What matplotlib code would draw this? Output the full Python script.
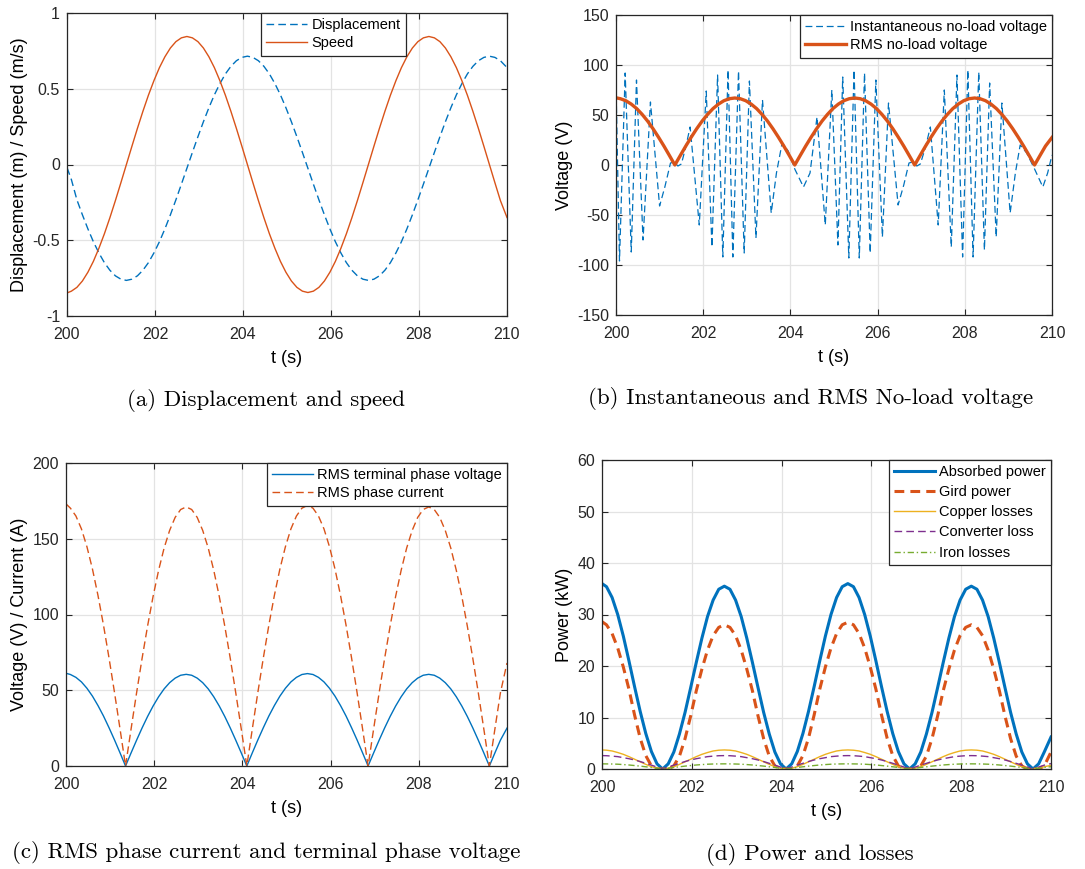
import numpy as np
import matplotlib
matplotlib.use("Agg")
import matplotlib.pyplot as plt

plt.rcParams['font.family'] = ['Liberation Sans', 'DejaVu Sans']
plt.rcParams['axes.unicode_minus'] = False

# time grid shared by the slow curves (s)
t = [200.0, 200.1, 200.225, 200.35, 200.475, 200.6, 200.725, 200.85, 200.975, 201.1, 201.225,
     201.35, 201.475, 201.6, 201.725, 201.85, 201.975, 202.1, 202.225, 202.35, 202.475, 202.6,
     202.725, 202.85, 202.975, 203.1, 203.225, 203.35, 203.475, 203.6, 203.725, 203.85, 203.975,
     204.1, 204.225, 204.35, 204.475, 204.6, 204.725, 204.85, 204.975, 205.1, 205.225, 205.35,
     205.475, 205.6, 205.725, 205.85, 205.975, 206.1, 206.225, 206.35, 206.475, 206.6, 206.725,
     206.85, 206.975, 207.1, 207.225, 207.35, 207.475, 207.6, 207.725, 207.85, 207.975, 208.1,
     208.225, 208.35, 208.475, 208.6, 208.725, 208.85, 208.975, 209.1, 209.225, 209.35, 209.475,
     209.6, 209.725, 209.85, 210.0]

# (a) displacement (m) and speed (m/s)
displacement = [-0.02, -0.10, -0.233, -0.332, -0.425, -0.51, -0.584, -0.648, -0.698, -0.735, -0.757,
                -0.765, -0.757, -0.735, -0.698, -0.648, -0.584, -0.51, -0.425, -0.332, -0.233, -0.13,
                -0.025, 0.08, 0.183, 0.282, 0.375, 0.46, 0.534, 0.598, 0.648, 0.685, 0.707,
                0.715, 0.707, 0.685, 0.648, 0.598, 0.534, 0.46, 0.375, 0.282, 0.183, 0.08,
                -0.025, -0.13, -0.233, -0.332, -0.425, -0.51, -0.584, -0.648, -0.698, -0.735, -0.757,
                -0.765, -0.757, -0.735, -0.698, -0.648, -0.584, -0.51, -0.425, -0.332, -0.233, -0.13,
                -0.025, 0.08, 0.183, 0.282, 0.375, 0.46, 0.534, 0.598, 0.648, 0.685, 0.707,
                0.715, 0.707, 0.685, 0.64]
speed = [-0.848, -0.836, -0.811, -0.769, -0.711, -0.639, -0.553, -0.457, -0.351, -0.238, -0.12,
         0.0, 0.12, 0.238, 0.351, 0.457, 0.553, 0.639, 0.711, 0.769, 0.811, 0.836,
         0.845, 0.836, 0.811, 0.769, 0.711, 0.639, 0.553, 0.457, 0.351, 0.238, 0.12,
         0.0, -0.12, -0.238, -0.351, -0.457, -0.553, -0.639, -0.711, -0.769, -0.811, -0.836,
         -0.845, -0.836, -0.811, -0.769, -0.711, -0.639, -0.553, -0.457, -0.351, -0.238, -0.12,
         0.0, 0.12, 0.238, 0.351, 0.457, 0.553, 0.639, 0.711, 0.769, 0.811, 0.836,
         0.845, 0.836, 0.811, 0.769, 0.711, 0.639, 0.553, 0.457, 0.351, 0.238, 0.12,
         0.0, -0.12, -0.238, -0.35]

# (b) instantaneous no-load voltage (peaks / troughs) and RMS no-load voltage (V)
inst_t = [200.0, 200.08, 200.21, 200.35, 200.47, 200.62, 200.79, 201.0, 201.12, 201.25,
          201.33, 201.42, 201.5, 201.6, 201.7, 201.91, 202.07, 202.2, 202.33, 202.45,
          202.57, 202.68, 202.81, 202.94, 203.06, 203.21, 203.36, 203.56, 203.68, 203.81,
          203.95, 204.1, 204.3, 204.45, 204.53, 204.61, 204.8, 204.95, 205.09, 205.2,
          205.34, 205.46, 205.58, 205.7, 205.83, 205.96, 206.11, 206.25, 206.47, 206.6,
          206.72, 206.8, 206.9, 206.98, 207.1, 207.21, 207.39, 207.53, 207.69, 207.82,
          207.95, 208.07, 208.19, 208.32, 208.45, 208.57, 208.72, 208.85, 209.04, 209.16,
          209.27, 209.42, 209.6, 209.79, 209.9, 210.0]
inst_v = [80, -96, 92, -87, 85, -75, 63, -41, -22, 2,
          3, -1, 1, 18, 38, -60, 74, -82, 90, -92,
          95, -92, 94, -88, 84, -73, 65, -48, -8, 22,
          14, -4, -22, -8, 20, 48, -60, 75, -80, 88,
          -93, 95, -93, 92, -88, 85, -72, 62, -40, -20,
          2, 3, -1, 1, 18, 38, -60, 75, -82, 90,
          -92, 95, -92, 93, -85, 82, -72, 62, -48, -8,
          20, 12, -4, -22, -8, 10]
rms_noload = [67.2, 66.3, 64.3, 60.9, 56.4, 50.6, 43.9, 36.2, 27.8, 18.9, 9.5,
              0.0, 9.5, 18.9, 27.8, 36.2, 43.9, 50.6, 56.4, 60.9, 64.3, 66.3,
              67.0, 66.3, 64.3, 60.9, 56.4, 50.6, 43.9, 36.2, 27.8, 18.9, 9.5,
              0.0, 9.5, 18.9, 27.8, 36.2, 43.9, 50.6, 56.4, 60.9, 64.3, 66.3,
              67.0, 66.3, 64.3, 60.9, 56.4, 50.6, 43.9, 36.2, 27.8, 18.9, 9.5,
              0.0, 9.5, 18.9, 27.8, 36.2, 43.9, 50.6, 56.4, 60.9, 64.3, 66.3,
              67.0, 66.3, 64.3, 60.9, 56.4, 50.6, 43.9, 36.2, 27.8, 18.9, 9.5,
              0.0, 9.5, 18.9, 27.5]

# (c) RMS terminal phase voltage (V) and RMS phase current (A)
rms_term_v = [61.2, 60.4, 58.5, 55.5, 51.3, 46.1, 39.9, 33.0, 25.3, 17.2, 8.7,
              0.0, 8.6, 17.0, 25.1, 32.7, 39.6, 45.7, 50.9, 55.0, 58.0, 59.9,
              60.5, 59.9, 58.0, 55.0, 50.9, 45.7, 39.6, 32.7, 25.1, 17.0, 8.6,
              0.0, 8.7, 17.2, 25.3, 33.0, 39.9, 46.1, 51.3, 55.5, 58.5, 60.4,
              61.0, 60.4, 58.5, 55.5, 51.3, 46.1, 39.9, 33.0, 25.3, 17.2, 8.7,
              0.0, 8.6, 17.0, 25.1, 32.7, 39.6, 45.7, 50.9, 55.0, 58.0, 59.9,
              60.5, 59.9, 58.0, 55.0, 50.9, 45.7, 39.6, 32.7, 25.1, 17.0, 8.6,
              0.0, 8.6, 17.0, 25.0]
rms_current = [173.0, 170.2, 165.0, 156.5, 144.7, 130.0, 112.6, 93.0, 71.4, 48.5, 24.5,
               0.0, 24.3, 48.2, 71.0, 92.4, 112.0, 129.2, 143.9, 155.5, 164.1, 169.3,
               171.0, 169.3, 164.1, 155.5, 143.9, 129.2, 112.0, 92.4, 71.0, 48.2, 24.3,
               0.0, 24.5, 48.5, 71.4, 93.0, 112.6, 130.0, 144.7, 156.5, 165.0, 170.2,
               172.0, 170.2, 165.0, 156.5, 144.7, 130.0, 112.6, 93.0, 71.4, 48.5, 24.5,
               0.0, 24.3, 48.2, 71.0, 92.4, 112.0, 129.2, 143.9, 155.5, 164.1, 169.3,
               171.0, 169.3, 164.1, 155.5, 143.9, 129.2, 112.0, 92.4, 71.0, 48.2, 24.3,
               0.0, 24.3, 48.2, 68.0]

# (d) power and losses (kW)
absorbed = [36.0, 35.4, 33.3, 30.0, 25.8, 21.0, 16.0, 11.2, 6.9, 3.4, 1.0,
            0.0, 1.0, 3.3, 6.8, 11.0, 15.8, 20.7, 25.4, 29.6, 32.8, 34.9,
            35.5, 34.9, 32.8, 29.6, 25.4, 20.7, 15.8, 11.0, 6.8, 3.3, 1.0,
            0.0, 1.0, 3.4, 6.9, 11.2, 16.0, 21.0, 25.8, 30.0, 33.3, 35.4,
            36.0, 35.4, 33.3, 30.0, 25.8, 21.0, 16.0, 11.2, 6.9, 3.4, 1.0,
            0.0, 1.0, 3.3, 6.8, 11.0, 15.8, 20.7, 25.4, 29.6, 32.8, 34.9,
            35.5, 34.9, 32.8, 29.6, 25.4, 20.7, 15.8, 11.0, 6.8, 3.3, 1.0,
            0.0, 1.0, 3.3, 6.2]
grid_power = [28.6, 28.0, 26.3, 23.5, 19.8, 15.5, 10.5, 6.0, 2.6, 0.6, 0.0,
              0.0, 0.0, 0.6, 2.5, 5.9, 10.3, 15.2, 19.4, 23.1, 25.9, 27.5,
              28.0, 27.5, 25.9, 23.1, 19.4, 15.2, 10.3, 5.9, 2.5, 0.6, 0.0,
              0.0, 0.0, 0.6, 2.6, 6.0, 10.5, 15.5, 19.8, 23.5, 26.3, 28.0,
              28.5, 28.0, 26.3, 23.5, 19.8, 15.5, 10.5, 6.0, 2.6, 0.6, 0.0,
              0.0, 0.0, 0.6, 2.5, 5.9, 10.3, 15.2, 19.4, 23.1, 25.9, 27.5,
              28.0, 27.5, 25.9, 23.1, 19.4, 15.2, 10.3, 5.9, 2.5, 0.6, 0.0,
              0.0, 0.0, 0.6, 3.3]
copper = [3.7, 3.65, 3.5, 3.2, 2.85, 2.4, 1.9, 1.4, 0.9, 0.45, 0.15,
          0.0, 0.15, 0.45, 0.9, 1.4, 1.9, 2.4, 2.85, 3.2, 3.5, 3.65,
          3.7, 3.65, 3.5, 3.2, 2.85, 2.4, 1.9, 1.4, 0.9, 0.45, 0.15,
          0.0, 0.15, 0.45, 0.9, 1.4, 1.9, 2.4, 2.85, 3.2, 3.5, 3.65,
          3.7, 3.65, 3.5, 3.2, 2.85, 2.4, 1.9, 1.4, 0.9, 0.45, 0.15,
          0.0, 0.15, 0.45, 0.9, 1.4, 1.9, 2.4, 2.85, 3.2, 3.5, 3.65,
          3.7, 3.65, 3.5, 3.2, 2.85, 2.4, 1.9, 1.4, 0.9, 0.45, 0.15,
          0.0, 0.15, 0.45, 0.7]
converter = [2.6, 2.58, 2.5, 2.4, 2.2, 2.0, 1.75, 1.45, 1.1, 0.75, 0.38,
             0.0, 0.38, 0.75, 1.1, 1.45, 1.75, 2.0, 2.2, 2.4, 2.5, 2.58,
             2.6, 2.58, 2.5, 2.4, 2.2, 2.0, 1.75, 1.45, 1.1, 0.75, 0.38,
             0.0, 0.38, 0.75, 1.1, 1.45, 1.75, 2.0, 2.2, 2.4, 2.5, 2.58,
             2.6, 2.58, 2.5, 2.4, 2.2, 2.0, 1.75, 1.45, 1.1, 0.75, 0.38,
             0.0, 0.38, 0.75, 1.1, 1.45, 1.75, 2.0, 2.2, 2.4, 2.5, 2.58,
             2.6, 2.58, 2.5, 2.4, 2.2, 2.0, 1.75, 1.45, 1.1, 0.75, 0.38,
             0.0, 0.38, 0.75, 1.05]
iron = [1.0, 0.99, 0.97, 0.93, 0.86, 0.78, 0.67, 0.56, 0.43, 0.3, 0.15,
        0.0, 0.15, 0.3, 0.43, 0.56, 0.67, 0.78, 0.86, 0.93, 0.97, 0.99,
        1.0, 0.99, 0.97, 0.93, 0.86, 0.78, 0.67, 0.56, 0.43, 0.3, 0.15,
        0.0, 0.15, 0.3, 0.43, 0.56, 0.67, 0.78, 0.86, 0.93, 0.97, 0.99,
        1.0, 0.99, 0.97, 0.93, 0.86, 0.78, 0.67, 0.56, 0.43, 0.3, 0.15,
        0.0, 0.15, 0.3, 0.43, 0.56, 0.67, 0.78, 0.86, 0.93, 0.97, 0.99,
        1.0, 0.99, 0.97, 0.93, 0.86, 0.78, 0.67, 0.56, 0.43, 0.3, 0.15,
        0.0, 0.15, 0.3, 0.45]

BLUE = '#0072BD'
ORANGE = '#D95319'
YELLOW = '#EDB120'
PURPLE = '#7E2F8E'
GREEN = '#77AC30'

W, H = 1085, 869


def add_axes_px(fig, left, top, right, bottom):
    return fig.add_axes([left / W, 1 - bottom / H, (right - left) / W, (bottom - top) / H])


def style_axes(ax, ylabel):
    ax.set_xlim(200, 210)
    ax.set_xticks([200, 202, 204, 206, 208, 210])
    ax.grid(True, color='#e3e3e3', lw=0.9)
    ax.set_axisbelow(True)
    ax.tick_params(direction='in', top=True, right=True, length=4, width=0.8,
                   labelsize=11.5, colors='#262626')
    ax.tick_params(axis='x', pad=8)
    ax.tick_params(axis='y', pad=5)
    for sp in ax.spines.values():
        sp.set_color('#262626')
        sp.set_linewidth(0.9)
    ax.set_xlabel('t (s)', fontsize=13, labelpad=6)
    ax.set_ylabel(ylabel, fontsize=13, labelpad=3)


def legend(ax, spacing=0.3, **kw):
    leg = ax.legend(fontsize=10.5, frameon=True, fancybox=False, framealpha=1,
                    edgecolor='#262626', handlelength=2.8, handletextpad=0.3,
                    borderpad=0.35, labelspacing=spacing, borderaxespad=0, **kw)
    leg.get_frame().set_linewidth(0.9)
    return leg


def caption(fig, x, y, text):
    fig.text(x / W, 1 - y / H, text, ha='center', va='center',
             fontsize=16.5, family='cmr10')


def main():
    fig = plt.figure(figsize=(W / 100, H / 100), dpi=100)

    # (a)
    ax = add_axes_px(fig, 67, 13, 507, 316)
    ax.plot(t, displacement, color=BLUE, lw=1, dashes=(5.5, 3), label='Displacement')
    ax.plot(t, speed, color=ORANGE, lw=1, label='Speed')
    ax.set_ylim(-1, 1)
    ax.set_yticks([-1, -0.5, 0, 0.5, 1])
    ax.set_yticklabels(['-1', '-0.5', '0', '0.5', '1'])
    style_axes(ax, 'Displacement (m) / Speed (m/s)')
    legend(ax, loc='upper left', bbox_to_anchor=(0.441, 1.0))
    caption(fig, 266, 400, '(a) Displacement and speed')

    # (b)
    ax = add_axes_px(fig, 616, 15, 1052, 315)
    ax.plot(inst_t, inst_v, color=BLUE, lw=0.9, dashes=(5.5, 3),
            label='Instantaneous no-load voltage')
    ax.plot(t, rms_noload, color=ORANGE, lw=2.4, label='RMS no-load voltage')
    ax.set_ylim(-150, 150)
    ax.set_yticks(range(-150, 151, 50))
    style_axes(ax, 'Voltage (V)')
    legend(ax, loc='upper right')
    caption(fig, 811, 398, '(b) Instantaneous and RMS No-load voltage')

    # (c)
    ax = add_axes_px(fig, 66, 463, 507, 766)
    ax.plot(t, rms_term_v, color=BLUE, lw=1, label='RMS terminal phase voltage')
    ax.plot(t, rms_current, color=ORANGE, lw=1, dashes=(5.5, 3), label='RMS phase current')
    ax.set_ylim(0, 200)
    ax.set_yticks(range(0, 201, 50))
    style_axes(ax, 'Voltage (V) / Current (A)')
    legend(ax, loc='upper right')
    caption(fig, 266, 852, '(c) RMS phase current and terminal phase voltage')

    # (d)
    ax = add_axes_px(fig, 602, 460, 1051, 769)
    ax.plot(t, absorbed, color=BLUE, lw=2.2, label='Absorbed power')
    ax.plot(t, grid_power, color=ORANGE, lw=2.2, dashes=(3.2, 2.0), label='Gird power')
    ax.plot(t, copper, color=YELLOW, lw=1, label='Copper losses')
    ax.plot(t, converter, color=PURPLE, lw=1, dashes=(5.5, 3), label='Converter loss')
    ax.plot(t, iron, color=GREEN, lw=1, dashes=(4.5, 2, 1, 2), label='Iron losses')
    ax.set_ylim(0, 60)
    ax.set_yticks(range(0, 61, 10))
    style_axes(ax, 'Power (kW)')
    legend(ax, spacing=0.42, loc='upper right')
    caption(fig, 810, 855, '(d) Power and losses')

    fig.savefig('out.png', dpi=100)


if __name__ == '__main__':
    main()
